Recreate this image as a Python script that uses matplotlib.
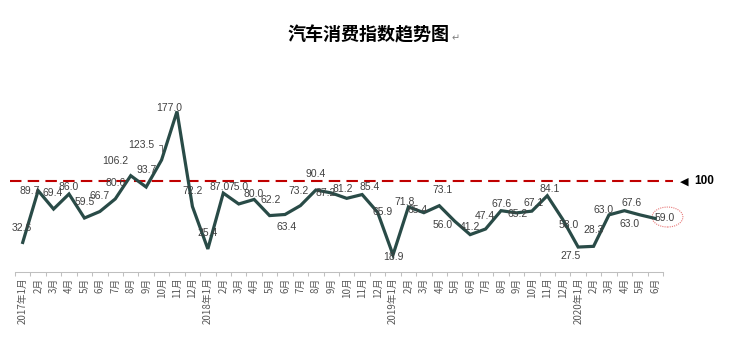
import matplotlib
matplotlib.use("Agg")
import matplotlib.pyplot as plt
from matplotlib.patches import Ellipse

plt.rcParams['font.family'] = ['Noto Sans CJK SC', 'DejaVu Sans']

# data
months = ['2017年1月', '2月', '3月', '4月', '5月', '6月', '7月', '8月', '9月', '10月', '11月', '12月',
          '2018年1月', '2月', '3月', '4月', '5月', '6月', '7月', '8月', '9月', '10月', '11月', '12月',
          '2019年1月', '2月', '3月', '4月', '5月', '6月', '7月', '8月', '9月', '10月', '11月', '12月',
          '2020年1月', '2月', '3月', '4月', '5月', '6月']
index_vals = [32.6, 89.7, 69.4, 86.0, 59.5, 66.7, 80.6, 106.2, 93.7, 123.5, 177.0, 72.2,
              25.4, 87.0, 75.0, 80.0, 62.2, 63.4, 73.2, 90.4, 87.2, 81.2, 85.4, 65.9,
              18.9, 71.8, 65.4, 73.1, 56.0, 41.2, 47.4, 67.6, 65.2, 67.1, 84.1, 58.0,
              27.5, 28.3, 63.0, 67.6, 63.0, 59.0]
baseline = 100

# label offsets in pixels (dx right, dy down)
offs = [(-1, -14), (-8, 0), (-1, -16), (0, -7), (0, -16), (0, -16), (0, -16), (-15, -15),
        (0, -17), (-20, -15), (-8, -3), (0, -16), (0, -16), (-4, -6), (0, -17), (-1, -5),
        (1, -16), (2, 13), (-2, -15), (0, -16), (-6, 0), (-4, -9), (7, -8), (5, 0),
        (0, 2), (-4, -5), (-6, -3), (3, -16), (-12, 4), (0, -8), (-1, -13), (1, -7),
        (1, 1), (2, -8), (2, -7), (6, 6), (-8, 9), (0, -16), (-5, -5), (7, -8),
        (-10, 9), (9, 0)]

fig = plt.figure(figsize=(7.33, 3.48), dpi=100)
ax = fig.add_axes([15/733, 76/348, 648/733, 181.4/348])

x = list(range(len(index_vals)))
ax.plot(x, index_vals, color='#294B47', lw=2.3, solid_joinstyle='miter', zorder=3)

# 100 reference line
ax.plot([-0.82, 42.15], [baseline, baseline], color='#C00000', lw=1.5,
        dashes=(5.5, 3), clip_on=False, zorder=2)
ax.text(42.6, baseline, '◀', color='black', fontsize=8, va='center', ha='left',
        family=['DejaVu Sans'])
ax.text(43.5, baseline, str(baseline), color='black', fontsize=8.5, fontweight='bold',
        va='center', ha='left', family=['Liberation Sans'])

for i, v in enumerate(index_vals):
    dx, dy = offs[i]
    if i == 9:
        ax.annotate(f'{v:.1f}', xy=(i, v), xytext=(dx, -dy), textcoords='offset pixels',
                    ha='center', va='center', fontsize=7.5, color='#404040',
                    family=['Liberation Sans'],
                    arrowprops=dict(arrowstyle='-', color='#595959', lw=0.6,
                                    connectionstyle='angle,angleA=0,angleB=90',
                                    shrinkA=1, shrinkB=6))
    else:
        ax.annotate(f'{v:.1f}', xy=(i, v), xytext=(dx, -dy), textcoords='offset pixels',
                    ha='center', va='center', fontsize=7.5, color='#404040',
                    family=['Liberation Sans'], zorder=4)

# circle around last value
ax.add_patch(Ellipse((41.79, 60.6), 2.0, 22, fill=False, edgecolor='#E87878',
                     lw=0.8, linestyle=(0, (1, 1)), clip_on=False))

ax.set_xlim(-0.5, len(index_vals) - 0.5)
ax.set_ylim(0, 200)
ax.set_xticks(x)
ax.set_xticklabels(months, rotation=90, fontsize=7, color='#595959')
ax.set_xticks([i - 0.5 for i in range(len(index_vals) + 1)], minor=True)
ax.tick_params(axis='x', which='major', length=0, pad=4)
ax.tick_params(axis='x', which='minor', length=3, color='#BFBFBF', width=0.75)
ax.set_yticks([])
for s in ['top', 'right', 'left']:
    ax.spines[s].set_visible(False)
ax.spines['bottom'].set_color('#BFBFBF')
ax.spines['bottom'].set_linewidth(0.75)

fig.text(368/733, 1 - 35/348, '汽车消费指数趋势图', fontsize=13, fontweight='bold',
         ha='center', va='center', color='black')
fig.text(452/733, 1 - 38/348, '↵', fontsize=7, color='#7F7F7F', ha='left', va='center',
         family=['DejaVu Sans'])

fig.savefig('out.png', dpi=100)
